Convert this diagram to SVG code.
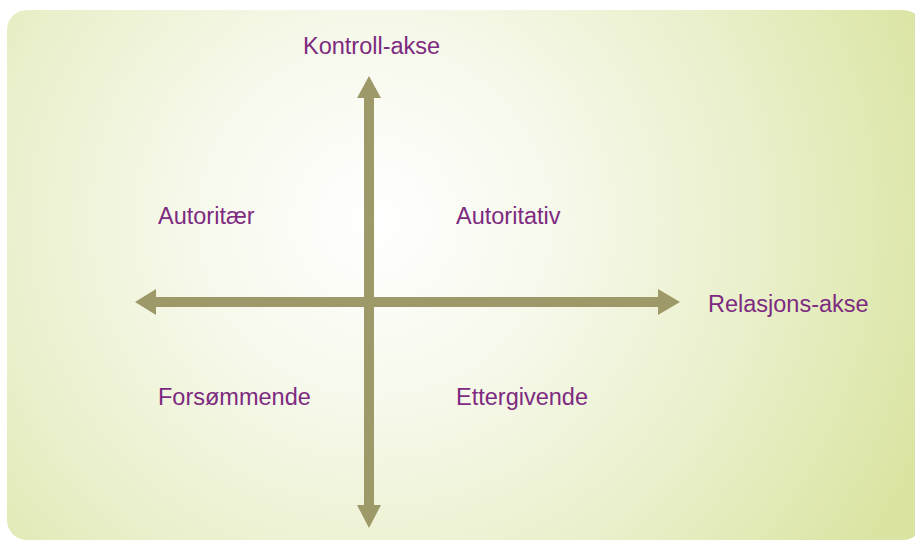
<svg xmlns="http://www.w3.org/2000/svg" width="915" height="541" viewBox="0 0 915 541">
  <style>
    .lbl { font-family: "Liberation Sans", Arial, sans-serif; font-size: 23.5px; fill: #7d2a80; }
    .axis { fill: #9d9968; }
  </style>
  <defs>
    <radialGradient id="bgGrad" gradientUnits="userSpaceOnUse" cx="375" cy="220" r="590">
      <stop offset="0" stop-color="#ffffff"/>
      <stop offset="0.3" stop-color="#f7f9ec"/>
      <stop offset="0.68" stop-color="#e8efc8"/>
      <stop offset="1" stop-color="#dbe4a2"/>
    </radialGradient>
  </defs>

  <!-- background panel -->
  <rect x="7" y="10" width="916" height="530" rx="20" ry="20" fill="url(#bgGrad)"/>

  <!-- axes -->
  <g id="connectors">
    <!-- vertical control axis, double-headed -->
    <polygon id="control-axis" class="axis" points="369,76 381,98 374,98 374,505 381,505 369,528 357,505 364,505 364,98 357,98"/>
    <!-- horizontal relation axis, double-headed -->
    <polygon id="relation-axis" class="axis" points="135,302 156,289 156,297 658,297 658,289 680,302 658,315 658,307 156,307 156,315"/>
  </g>

  <g id="label-control"><text class="lbl" x="303" y="54">Kontroll-akse</text></g>
  <g id="label-relation"><text class="lbl" x="708" y="312">Relasjons-akse</text></g>
  <g id="q-autoritaer"><text class="lbl" x="158" y="224">Autoritær</text></g>
  <g id="q-autoritativ"><text class="lbl" x="456" y="224">Autoritativ</text></g>
  <g id="q-forsommende"><text class="lbl" x="158" y="405">Forsømmende</text></g>
  <g id="q-ettergivende"><text class="lbl" x="456" y="405">Ettergivende</text></g>
</svg>
